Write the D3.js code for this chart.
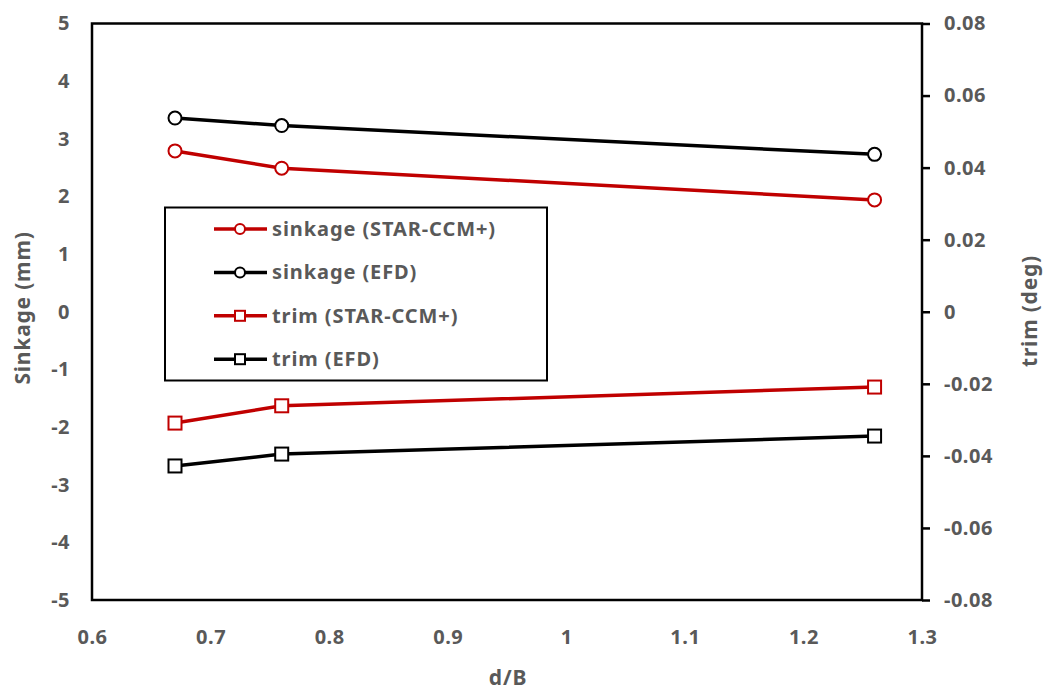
<!DOCTYPE html>
<html lang="en">
<head>
    <meta charset="UTF-8">
    <title>Sinkage and trim</title>
    <script src="https://cdn.jsdelivr.net/npm/d3@7"></script>
    <style>
        * { box-sizing: border-box; padding: 0; margin: 0; border: 0; }
        body { background: #fff; }
        text { font-family: "Noto Sans", "Open Sans", sans-serif; font-weight: bold; fill: #595959; }
    </style>
</head>
<body>
    <svg width="1048" height="693"></svg>
    <script>
        var dB = [0.67, 0.76, 1.26];
        var sinkStar = [2.79, 2.49, 1.94];
        var sinkEfd = [3.36, 3.23, 2.73];
        var trimStar = [-0.0309, -0.0261, -0.0209];
        var trimEfd = [-0.0428, -0.0395, -0.0345];
        var xTicks = [0.6, 0.7, 0.8, 0.9, 1, 1.1, 1.2, 1.3];
        var leftTicks = [-5, -4, -3, -2, -1, 0, 1, 2, 3, 4, 5];
        var rightTicks = [-0.08, -0.06, -0.04, -0.02, 0, 0.02, 0.04, 0.06, 0.08];

        var red = "#C00000";
        var plot = { left: 92, right: 922, top: 23.5, bottom: 600 };

        var x = d3.scaleLinear().domain([0.6, 1.3]).range([plot.left, plot.right]);
        var yL = d3.scaleLinear().domain([-5, 5]).range([plot.bottom, plot.top]);
        var yR = d3.scaleLinear().domain([-0.08, 0.08]).range([plot.bottom, plot.top]);

        var svg = d3.select("svg");

        // plot frame
        svg.append("rect")
            .attr("x", plot.left).attr("y", plot.top)
            .attr("width", plot.right - plot.left).attr("height", plot.bottom - plot.top)
            .attr("fill", "none").attr("stroke", "#000").attr("stroke-width", 2.5);

        // hyphen instead of unicode minus, like the original
        function hy(s) { return s.replace("\u2212", "-"); }

        // left axis
        var gl = svg.append("g").attr("transform", "translate(" + plot.left + ",0)")
            .call(d3.axisLeft(yL).tickValues(leftTicks).tickSize(0).tickPadding(22)
                .tickFormat(function (d) { return hy(d3.format("d")(d)); }));
        gl.select(".domain").remove();
        gl.selectAll("text").style("font-size", "20px").style("letter-spacing", "0.5px").attr("fill", "#595959");

        // right axis
        var gr = svg.append("g").attr("transform", "translate(" + plot.right + ",0)")
            .call(d3.axisRight(yR).tickValues(rightTicks).tickSize(8).tickPadding(14)
                .tickFormat(function (d) { return d === 0 ? "0" : hy(d3.format(".2f")(d)); }));
        gr.select(".domain").remove();
        gr.selectAll("line").attr("stroke", "#000").attr("stroke-width", 2.5);
        gr.selectAll("text").style("font-size", "20px").style("letter-spacing", "0.5px").attr("fill", "#595959");

        // bottom axis
        var gb = svg.append("g").attr("transform", "translate(0," + plot.bottom + ")")
            .call(d3.axisBottom(x).tickValues(xTicks).tickSize(0).tickPadding(30).tickFormat(d3.format("")));
        gb.select(".domain").remove();
        gb.selectAll("text").style("font-size", "20px").style("letter-spacing", "0.5px").attr("fill", "#595959");

        // axis titles
        svg.append("text").attr("transform", "translate(30,308) rotate(-90)")
            .attr("text-anchor", "middle").style("font-size", "21px").style("letter-spacing", "0.8px").text("Sinkage (mm)");
        svg.append("text").attr("transform", "translate(1037,311) rotate(-90)")
            .attr("text-anchor", "middle").style("font-size", "21px").style("letter-spacing", "0.8px").text("trim (deg)");
        svg.append("text").attr("x", 508).attr("y", 685)
            .attr("text-anchor", "middle").style("font-size", "21px").style("letter-spacing", "0.8px").text("d/B");

        var series = [
            { name: "sinkage (STAR-CCM+)", vals: sinkStar, y: yL, color: red, shape: "circle" },
            { name: "sinkage (EFD)", vals: sinkEfd, y: yL, color: "#000", shape: "circle" },
            { name: "trim (STAR-CCM+)", vals: trimStar, y: yR, color: red, shape: "square" },
            { name: "trim (EFD)", vals: trimEfd, y: yR, color: "#000", shape: "square" }
        ];

        function drawMarker(g, shape, color, cx, cy) {
            if (shape === "circle") {
                g.append("circle").attr("cx", cx).attr("cy", cy).attr("r", 6.5)
                    .attr("fill", "#fff").attr("stroke", color).attr("stroke-width", 2);
            } else {
                g.append("rect").attr("x", cx - 6.5).attr("y", cy - 6.5).attr("width", 13).attr("height", 13)
                    .attr("fill", "#fff").attr("stroke", color).attr("stroke-width", 2);
            }
        }

        series.forEach(function (s) {
            var pts = dB.map(function (d, i) { return [x(d), s.y(s.vals[i])]; });
            svg.append("path").attr("d", d3.line()(pts))
                .attr("fill", "none").attr("stroke", s.color).attr("stroke-width", 3.5);
            var g = svg.append("g");
            pts.forEach(function (p) { drawMarker(g, s.shape, s.color, p[0], p[1]); });
        });

        // legend
        var lg = svg.append("g");
        lg.append("rect").attr("x", 165).attr("y", 207.5).attr("width", 382).attr("height", 173)
            .attr("fill", "#fff").attr("stroke", "#000").attr("stroke-width", 2);
        series.forEach(function (s, i) {
            var yy = 229 + i * 43.4;
            lg.append("line").attr("x1", 214).attr("x2", 267).attr("y1", yy).attr("y2", yy)
                .attr("stroke", s.color).attr("stroke-width", 3.5);
            if (s.shape === "circle") {
                lg.append("circle").attr("cx", 240).attr("cy", yy).attr("r", 5)
                    .attr("fill", "#fff").attr("stroke", s.color).attr("stroke-width", 2);
            } else {
                lg.append("rect").attr("x", 235).attr("y", yy - 5).attr("width", 10).attr("height", 10)
                    .attr("fill", "#fff").attr("stroke", s.color).attr("stroke-width", 2);
            }
            lg.append("text").attr("x", 272).attr("y", yy).attr("dy", "0.35em")
                .style("font-size", "20px").style("letter-spacing", "0.9px").text(s.name);
        });
    </script>
</body>
</html>
